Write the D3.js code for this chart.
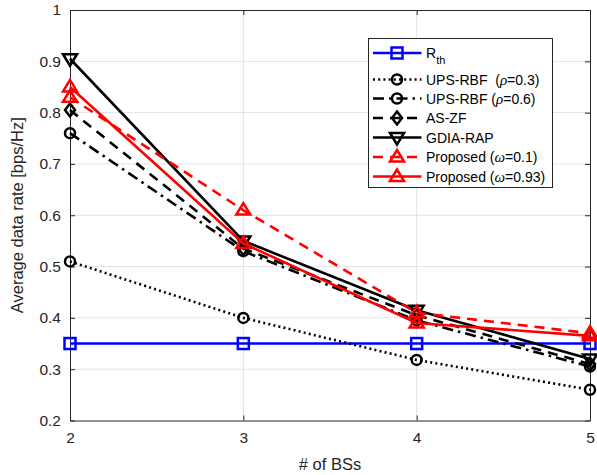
<!DOCTYPE html>
<html>
<head>
<meta charset="utf-8">
<script src="https://cdn.jsdelivr.net/npm/d3@7"></script>
<style>
  html, body { margin: 0; padding: 0; background: #fff; }
  svg { display: block; font-family: "Liberation Sans", Arial, sans-serif; }
</style>
</head>
<body>
<svg id="chart" width="597" height="475"></svg>
<script>
// Number of base stations on the x axis
const numBS = [2, 3, 4, 5];

// Average data rate [bps/Hz] for each scheme
const rTh        = [0.35, 0.35, 0.35, 0.35];
const upsRbf03   = [0.51, 0.40, 0.318, 0.26];
const upsRbf06   = [0.76, 0.53, 0.395, 0.305];
const asZf       = [0.805, 0.535, 0.405, 0.31];
const gdiaRap    = [0.905, 0.55, 0.415, 0.32];
const propW01    = [0.83, 0.61, 0.41, 0.37];
const propW093   = [0.85, 0.545, 0.39, 0.365];

const xTicks = [2, 3, 4, 5];
const yTicks = [0.2, 0.3, 0.4, 0.5, 0.6, 0.7, 0.8, 0.9, 1];

// label parts: [text, italic?]
const series = [
  { key: "rth",  values: rTh,      color: "#0000ff", dash: null,         marker: "square",  label: [["R", false]], sub: "th" },
  { key: "u03",  values: upsRbf03, color: "#000000", dash: "2,3.2",      marker: "circle",  label: [["UPS-RBF \u00a0(", false], ["\u03c1", true], ["=0.3)", false]] },
  { key: "u06",  values: upsRbf06, color: "#000000", dash: "11,5,2.5,5", marker: "circle",  label: [["UPS-RBF (", false], ["\u03c1", true], ["=0.6)", false]] },
  { key: "aszf", values: asZf,     color: "#000000", dash: "10,7",       marker: "diamond", label: [["AS-ZF", false]] },
  { key: "gdia", values: gdiaRap,  color: "#000000", dash: null,         marker: "tridown", label: [["GDIA-RAP", false]] },
  { key: "p01",  values: propW01,  color: "#ff0000", dash: "10,7",       marker: "triup",   label: [["Proposed (", false], ["\u03c9", true], ["=0.1)", false]] },
  { key: "p093", values: propW093, color: "#ff0000", dash: null,         marker: "triup",   label: [["Proposed (", false], ["\u03c9", true], ["=0.93)", false]] }
];

const svg = d3.select("#chart");
const margin = { left: 70, right: 7, top: 10, bottom: 54.5 };
const W = 597, H = 475;
const x = d3.scaleLinear().domain([2, 5]).range([margin.left, W - margin.right]);
const y = d3.scaleLinear().domain([0.2, 1]).range([H - margin.bottom, margin.top]);

const axisColor = "#262626";
const gridColor = "#e3e3e3";

// grid
const g = svg.append("g");
g.selectAll("line.gx").data(xTicks.slice(1, -1)).join("line")
  .attr("x1", d => x(d)).attr("x2", d => x(d))
  .attr("y1", y(0.2)).attr("y2", y(1))
  .attr("stroke", gridColor).attr("stroke-width", 1);
g.selectAll("line.gy").data(yTicks.slice(1, -1)).join("line")
  .attr("y1", d => y(d)).attr("y2", d => y(d))
  .attr("x1", x(2)).attr("x2", x(5))
  .attr("stroke", gridColor).attr("stroke-width", 1);

// axes (ticks point inward)
const fmtY = d => (d === 1 ? "1" : d3.format(".1f")(d));
const axB = svg.append("g").attr("transform", `translate(0,${y(0.2)})`)
  .call(d3.axisBottom(x).tickValues(xTicks).tickFormat(d3.format("d")).tickSizeInner(-5).tickSizeOuter(0).tickPadding(11));
const axL = svg.append("g").attr("transform", `translate(${x(2)},0)`)
  .call(d3.axisLeft(y).tickValues(yTicks).tickFormat(fmtY).tickSizeInner(-5).tickSizeOuter(0).tickPadding(9));
const axT = svg.append("g").attr("transform", `translate(0,${y(1)})`)
  .call(d3.axisTop(x).tickValues(xTicks).tickFormat("").tickSizeInner(-5).tickSizeOuter(0));
const axR = svg.append("g").attr("transform", `translate(${x(5)},0)`)
  .call(d3.axisRight(y).tickValues(yTicks).tickFormat("").tickSizeInner(-5).tickSizeOuter(0));
[axB, axL, axT, axR].forEach(a => {
  a.select(".domain").attr("stroke", axisColor).attr("stroke-width", 1);
  a.selectAll(".tick line").attr("stroke", axisColor).attr("stroke-width", 1);
  a.selectAll(".tick text").attr("fill", axisColor).attr("font-size", 15.5)
    .attr("font-family", "'Liberation Sans', Arial, sans-serif");
});

// axis labels
svg.append("text").attr("x", (x(2) + x(5)) / 2).attr("y", 470)
  .attr("text-anchor", "middle").attr("font-size", 16.5).attr("fill", axisColor)
  .text("# of BSs");
svg.append("text").attr("transform", `translate(23,${(y(0.2) + y(1)) / 2}) rotate(-90)`)
  .attr("text-anchor", "middle").attr("font-size", 16.5).attr("fill", axisColor)
  .text("Average data rate [bps/Hz]");

// marker drawing
function drawMarker(sel, type, color) {
  const common = s => s.attr("fill", "none").attr("stroke", color).attr("stroke-width", 2.5);
  if (type === "square") {
    common(sel.append("rect").attr("x", -5.5).attr("y", -5.5).attr("width", 11).attr("height", 11));
  } else if (type === "circle") {
    common(sel.append("circle").attr("r", 5));
  } else if (type === "diamond") {
    common(sel.append("path").attr("d", "M0,-6.5L5,0L0,6.5L-5,0Z"));
  } else if (type === "tridown") {
    common(sel.append("path").attr("d", "M-7,-4.5L7,-4.5L0,7Z"));
  } else if (type === "triup") {
    common(sel.append("path").attr("d", "M-7,4.5L7,4.5L0,-7Z"));
  }
}

const line = d3.line().x((d, i) => x(numBS[i])).y(d => y(d));
const plot = svg.append("g");
series.forEach(s => {
  plot.append("path").datum(s.values)
    .attr("d", line).attr("fill", "none")
    .attr("stroke", s.color).attr("stroke-width", 2.6)
    .attr("stroke-dasharray", s.dash);
  s.values.forEach((v, i) => {
    const m = plot.append("g").attr("transform", `translate(${x(numBS[i])},${y(v)})`);
    drawMarker(m, s.marker, s.color);
  });
});

// legend
const lg = svg.append("g");
lg.append("rect").attr("x", 368.5).attr("y", 38.5).attr("width", 184).attr("height", 149)
  .attr("fill", "#fff").attr("stroke", axisColor).attr("stroke-width", 1);
const rowY = [53, 79.5, 98.5, 118, 137.5, 157, 176.5];
series.forEach((s, i) => {
  const ry = rowY[i];
  lg.append("line").attr("x1", 373).attr("x2", 421.5).attr("y1", ry).attr("y2", ry)
    .attr("stroke", s.color).attr("stroke-width", 2.6).attr("stroke-dasharray", s.dash);
  drawMarker(lg.append("g").attr("transform", `translate(397,${ry})`), s.marker, s.color);
  const t = lg.append("text").attr("x", 426).attr("y", ry + 5).attr("font-size", 14).attr("fill", "#000");
  s.label.forEach(([txt, it]) => {
    const ts = t.append("tspan").text(txt);
    if (it) ts.attr("font-style", "italic").attr("font-family", "'Liberation Serif', serif").attr("font-size", 15);
  });
  if (s.sub) t.append("tspan").attr("dy", 6).attr("font-size", 11).text(s.sub);
});
</script>
</body>
</html>
